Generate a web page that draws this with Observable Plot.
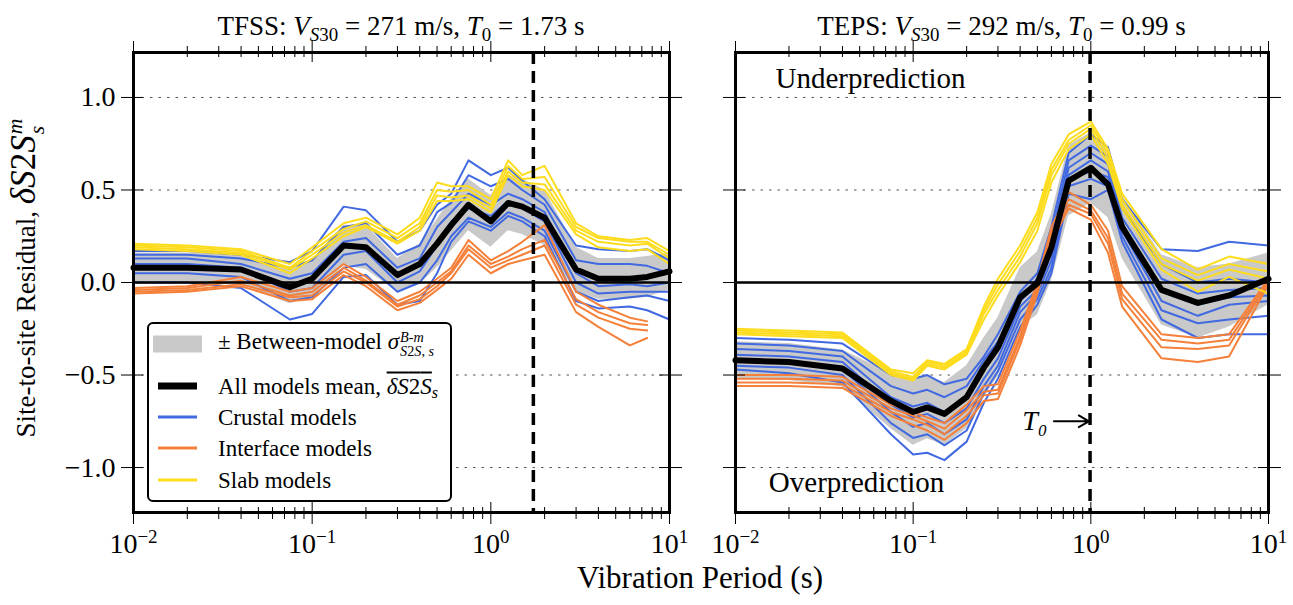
<!DOCTYPE html>
<html>
<head>
<meta charset="utf-8">
<script src="https://cdn.jsdelivr.net/npm/d3@7"></script>
<script src="https://cdn.jsdelivr.net/npm/@observablehq/plot@0.6"></script>
<style>
html,body{margin:0;padding:0;background:#fff;}
#fig{position:relative;width:1293px;height:605px;overflow:hidden;font-family:"Liberation Serif","DejaVu Serif","Noto Serif",serif;color:#000;background:#fff;}
.panel{position:absolute;top:0;}
.title{position:absolute;top:11px;text-align:center;font-size:27px;line-height:30px;white-space:nowrap;}
sub{font-size:0.7em;line-height:0;vertical-align:-0.3em;}
.ss{display:inline-flex;flex-direction:column;font-size:0.62em;line-height:1.0;vertical-align:middle;margin-left:1px;}
#ylabel{position:absolute;left:26px;top:278px;transform:translate(-50%,-50%) rotate(-90deg);font-size:27px;white-space:nowrap;}
#ylabel .m{font-size:1.3em;}
#xlabel{position:absolute;left:700px;top:578px;transform:translate(-50%,-50%);font-size:31px;white-space:nowrap;}
#legend{position:absolute;left:147px;top:322px;width:305px;height:180px;box-sizing:border-box;border:2px solid #000;border-radius:6px;background:#fff;}
.lrow{position:absolute;left:0;width:100%;height:0;}
.sw{position:absolute;transform:translateY(-50%);}
.lt{position:absolute;left:69px;top:0;transform:translateY(-50%);font-size:23px;white-space:nowrap;line-height:1;}
.ov{text-decoration:overline;}
</style>
</head>
<body>
<div id="fig"></div>
<script>
// ---------------- data ----------------
const stations = ["TFSS", "TEPS"];
const vs30 = [271, 292];
const t0 = [1.73, 0.99];

// Left panel (TFSS) periods (s)
const periodsL = [0.01,0.02,0.04,0.075,0.1,0.15,0.2,0.3,0.4,0.5,0.6,0.75,1,1.25,1.5,2,3,4,6,7.5,10];
const meanL  = [0.08,0.08,0.07,-0.025,0.02,0.20,0.19,0.04,0.10,0.21,0.31,0.42,0.33,0.43,0.41,0.35,0.07,0.02,0.02,0.03,0.06];
const sigmaL = [0.08,0.08,0.08,0.09,0.10,0.11,0.12,0.09,0.11,0.13,0.14,0.14,0.14,0.15,0.15,0.15,0.12,0.11,0.11,0.11,0.10];
const crustalL = [
  [0.17,0.17,0.15,0.11,0.17,0.41,0.39,0.22,0.28,0.42,0.48,0.66,0.58,0.62,0.55,0.45,0.20,0.18,0.17,0.18,0.12],
  [0.15,0.15,0.13,0.08,0.12,0.30,0.32,0.15,0.20,0.38,0.43,0.58,0.52,0.56,0.50,0.42,0.12,0.10,0.10,0.09,0.05],
  [0.13,0.13,0.10,0.02,0.05,0.22,0.24,0.08,0.13,0.30,0.38,0.48,0.42,0.48,0.45,0.38,0.05,-0.02,-0.01,-0.02,0.00],
  [0.10,0.10,0.08,-0.05,-0.03,0.15,0.17,0.00,0.06,0.20,0.33,0.40,0.36,0.44,0.40,0.33,0.00,-0.06,-0.05,-0.05,-0.05],
  [0.05,0.05,0.03,-0.10,-0.08,0.08,0.10,-0.05,0.00,0.12,0.25,0.35,0.30,0.38,0.35,0.28,-0.05,-0.10,-0.08,-0.07,-0.10],
  [0.00,0.00,-0.03,-0.20,-0.17,0.03,0.04,-0.12,-0.10,0.05,0.22,0.33,0.28,0.36,0.33,0.25,-0.10,-0.14,-0.13,-0.15,-0.20]
];
const interfaceL = [
  [-0.03,-0.02,0.03,-0.05,-0.03,0.10,0.03,-0.10,-0.05,0.02,0.08,0.23,0.12,0.17,0.22,0.31,-0.05,-0.12,-0.19,-0.21,null],
  [-0.04,-0.03,0.01,-0.07,-0.05,0.08,0.01,-0.12,-0.07,0.00,0.06,0.20,0.10,0.14,0.18,0.23,-0.09,-0.16,-0.22,-0.23,null],
  [-0.05,-0.04,-0.01,-0.08,-0.07,0.06,0.00,-0.13,-0.09,-0.02,0.05,0.18,0.08,0.12,0.15,0.20,-0.12,-0.19,-0.25,-0.26,null],
  [-0.06,-0.05,-0.02,-0.10,-0.09,0.04,-0.02,-0.15,-0.11,-0.04,0.02,0.15,0.05,0.10,0.12,0.15,-0.16,-0.24,-0.34,-0.30,null]
];
const slabL = [
  [0.21,0.20,0.18,0.10,0.19,0.32,0.35,0.26,0.35,0.54,0.52,0.52,0.45,0.66,0.58,0.63,0.32,0.25,0.23,0.24,0.17],
  [0.20,0.19,0.17,0.08,0.17,0.29,0.33,0.24,0.32,0.50,0.49,0.50,0.42,0.63,0.56,0.57,0.30,0.24,0.22,0.22,0.15],
  [0.19,0.18,0.16,0.07,0.15,0.27,0.31,0.22,0.30,0.47,0.46,0.47,0.40,0.60,0.54,0.53,0.28,0.22,0.20,0.21,0.13],
  [0.18,0.17,0.15,0.05,0.13,0.25,0.30,0.21,0.28,0.44,0.44,0.45,0.38,0.58,0.52,0.50,0.26,0.19,0.17,0.18,0.10]
];

// Right panel (TEPS) periods (s)
const periodsR = [0.01,0.02,0.04,0.075,0.1,0.12,0.15,0.2,0.25,0.3,0.4,0.5,0.6,0.75,1,1.25,1.5,2.5,4,6,10];
const meanR  = [-0.42,-0.43,-0.465,-0.64,-0.70,-0.675,-0.71,-0.62,-0.46,-0.35,-0.08,-0.005,0.19,0.55,0.62,0.53,0.30,-0.04,-0.11,-0.07,0.02];
const sigmaR = [0.10,0.10,0.10,0.15,0.18,0.17,0.17,0.17,0.16,0.16,0.16,0.17,0.18,0.19,0.19,0.18,0.17,0.19,0.19,0.17,0.14];
const crustalR = [
  [-0.30,-0.31,-0.33,-0.50,-0.52,-0.50,-0.55,-0.52,-0.40,-0.28,-0.05,0.05,0.30,0.70,0.80,0.73,0.45,0.18,0.17,0.22,0.20],
  [-0.33,-0.34,-0.37,-0.56,-0.60,-0.58,-0.62,-0.56,-0.42,-0.32,-0.08,0.02,0.25,0.66,0.74,0.68,0.40,0.10,0.00,0.02,0.00],
  [-0.36,-0.37,-0.40,-0.62,-0.67,-0.65,-0.70,-0.62,-0.47,-0.37,-0.10,-0.01,0.20,0.62,0.70,0.64,0.35,0.02,-0.06,-0.04,-0.03],
  [-0.39,-0.40,-0.43,-0.66,-0.73,-0.71,-0.76,-0.68,-0.52,-0.41,-0.13,-0.04,0.16,0.58,0.66,0.60,0.32,-0.05,-0.12,-0.08,-0.07],
  [-0.42,-0.43,-0.47,-0.70,-0.78,-0.76,-0.82,-0.74,-0.56,-0.45,-0.16,-0.06,0.12,0.56,0.60,0.57,0.28,-0.10,-0.18,-0.12,-0.10],
  [-0.45,-0.46,-0.50,-0.76,-0.84,-0.82,-0.88,-0.80,-0.60,-0.48,-0.20,-0.09,0.08,0.52,0.56,0.52,0.25,-0.15,-0.22,-0.20,-0.18],
  [-0.47,-0.49,-0.54,-0.82,-0.93,-0.92,-0.96,-0.86,-0.65,-0.52,-0.24,-0.12,0.05,0.48,0.45,0.50,0.22,-0.20,-0.30,-0.28,-0.28]
];
const interfaceR = [
  [-0.50,-0.50,-0.51,-0.66,-0.70,-0.73,-0.76,-0.66,-0.56,-0.55,-0.26,0.00,0.30,0.49,0.42,0.28,-0.02,-0.28,-0.30,-0.28,0.02],
  [-0.52,-0.52,-0.53,-0.68,-0.72,-0.75,-0.79,-0.69,-0.59,-0.58,-0.29,-0.02,0.27,0.45,0.39,0.24,-0.06,-0.31,-0.33,-0.31,0.01],
  [-0.54,-0.54,-0.55,-0.70,-0.74,-0.77,-0.82,-0.72,-0.61,-0.60,-0.31,-0.04,0.25,0.42,0.37,0.21,-0.09,-0.35,-0.36,-0.34,0.00],
  [-0.56,-0.56,-0.57,-0.72,-0.77,-0.80,-0.85,-0.76,-0.64,-0.63,-0.34,-0.06,0.22,0.40,0.34,0.16,-0.13,-0.41,-0.43,-0.40,-0.01]
];
const slabR = [
  [-0.25,-0.26,-0.27,-0.47,-0.49,-0.42,-0.44,-0.36,-0.13,0.02,0.20,0.38,0.64,0.80,0.87,0.72,0.48,0.18,0.07,0.14,0.10],
  [-0.26,-0.27,-0.28,-0.48,-0.51,-0.43,-0.45,-0.37,-0.15,-0.01,0.17,0.35,0.61,0.77,0.85,0.70,0.45,0.13,0.04,0.10,0.06],
  [-0.27,-0.28,-0.29,-0.49,-0.52,-0.44,-0.46,-0.38,-0.17,-0.04,0.14,0.32,0.58,0.75,0.83,0.67,0.42,0.10,0.01,0.07,0.02],
  [-0.28,-0.29,-0.30,-0.50,-0.53,-0.45,-0.47,-0.39,-0.20,-0.07,0.11,0.28,0.54,0.72,0.80,0.64,0.40,0.07,-0.05,0.03,-0.06]
];

// axes / ticks
const xMajor = [0.01, 0.1, 1, 10];
const xMajorExp = ["\u22122", "\u22121", "0", "1"];
const xMinor = [0.02,0.03,0.04,0.05,0.06,0.07,0.08,0.09,0.2,0.3,0.4,0.5,0.6,0.7,0.8,0.9,2,3,4,5,6,7,8,9];
const yTicks = [-1, -0.5, 0, 0.5, 1];
const yTickLabels = ["\u22121.0", "\u22120.5", "0.0", "0.5", "1.0"];
const gridLevels = [-1, -0.5, 0.5, 1];

// annotations (data coordinates)
const notesR = [
  {x: 0.0168, y: 1.10, text: "Underprediction"},
  {x: 0.0154, y: -1.08, text: "Overprediction"}
];
const t0Label = [{x: 0.57, y: -0.75, text: "T\u2080"}];
const t0Arrow = [{x1: 0.62, x2: 0.975, y1: -0.75, y2: -0.75}];

// legend
const legendItems = [
  {kind: "patch", label: "\u00b1 Between-model <i>\u03c3</i><span class='ss'><span><i>B</i>-<i>m</i></span><span><i>S</i>2<i>S</i>, <i>s</i></span></span>"},
  {kind: "mean", label: "All models mean, <span class='ov'><i>\u03b4S</i>2<i>S</i></span><sub><i>s</i></sub>"},
  {kind: "crustal", label: "Crustal models"},
  {kind: "interface", label: "Interface models"},
  {kind: "slab", label: "Slab models"}
];

// ---------------- drawing ----------------
const FONT = "'Liberation Serif', 'DejaVu Serif', 'Noto Serif', serif";
const BLUE = "#4169e1", ORANGE = "#f5803a", YELLOW = "#fcdc1c", GRAY = "#c9c9c9";
const H = 605, MT = 52, MB = 93;
const yDomain = [-1.243, 1.243];

const toRows = (grid, series) => series.flatMap((s, k) =>
  s.map((v, i) => ({x: grid[i], y: v, k})).filter(d => d.y !== null));
const bandRows = (grid, mean, sig) => grid.map((x, i) => ({x, lo: mean[i] - sig[i], hi: mean[i] + sig[i]}));

function panel(o) {
  const innerW = o.width - o.marginLeft - o.marginRight;
  const innerH = H - MT - MB;
  const marks = [
    Plot.ruleY(gridLevels, {stroke: "#555", strokeWidth: 1, strokeDasharray: "2.5,6"}),
    Plot.areaY(bandRows(o.grid, o.mean, o.sigma), {x: "x", y1: "lo", y2: "hi", fill: GRAY}),
    Plot.line(toRows(o.grid, o.crust), {x: "x", y: "y", z: "k", stroke: BLUE, strokeWidth: 2}),
    Plot.line(toRows(o.grid, o.inter), {x: "x", y: "y", z: "k", stroke: ORANGE, strokeWidth: 2}),
    Plot.line(toRows(o.grid, o.slab), {x: "x", y: "y", z: "k", stroke: YELLOW, strokeWidth: 2}),
    Plot.ruleY([0], {stroke: "black", strokeWidth: 2.5}),
    Plot.line(o.grid.map((x, i) => ({x, y: o.mean[i]})), {x: "x", y: "y", stroke: "black", strokeWidth: 6, strokeLinejoin: "round"}),
    Plot.ruleX([o.t0], {stroke: "black", strokeWidth: 3.5, strokeDasharray: "12,7"}),
    Plot.axisX({anchor: "bottom", ticks: xMajor, tickSize: 12, tickPadding: 9, label: null,
      tickFormat: d => "10|" + xMajorExp[xMajor.indexOf(d)]}),
    Plot.axisX({anchor: "bottom", ticks: xMinor, tickSize: 7, label: null, tickFormat: () => ""}),
    Plot.axisX({anchor: "top", ticks: xMajor, tickSize: 12, label: null, tickFormat: () => ""}),
    Plot.axisX({anchor: "top", ticks: xMinor, tickSize: 7, label: null, tickFormat: () => ""}),
    Plot.axisY({anchor: "left", ticks: yTicks, tickSize: 12, tickPadding: 6, label: null,
      tickFormat: o.yLabels ? (d => yTickLabels[yTicks.indexOf(d)]) : (() => "")}),
    Plot.axisY({anchor: "right", ticks: yTicks, tickSize: 12, label: null, tickFormat: () => ""}),
    Plot.ruleX(xMajor, {insetTop: innerH - 10, stroke: "black"}),
    Plot.ruleX(xMinor, {insetTop: innerH - 5, stroke: "black"}),
    Plot.ruleX(xMajor, {insetBottom: innerH - 10, stroke: "black"}),
    Plot.ruleX(xMinor, {insetBottom: innerH - 5, stroke: "black"}),
    Plot.ruleY(yTicks, {insetRight: innerW - 10, stroke: "black"}),
    Plot.ruleY(yTicks, {insetLeft: innerW - 10, stroke: "black"})
  ];
  if (o.notes) {
    marks.push(Plot.text(o.notes, {x: "x", y: "y", text: "text", textAnchor: "start", fontSize: 29}));
    marks.push(Plot.text(t0Label, {x: "x", y: "y", text: "text", textAnchor: "end", fontSize: 28, fontStyle: "italic"}));
    marks.push(Plot.arrow(t0Arrow, {x1: "x1", x2: "x2", y1: "y1", y2: "y2", stroke: "black", strokeWidth: 2, headLength: 11}));
  }
  marks.push(Plot.frame({stroke: "black", strokeWidth: 3}));
  const svg = Plot.plot({
    width: o.width, height: H,
    marginTop: MT, marginBottom: MB, marginLeft: o.marginLeft, marginRight: o.marginRight,
    x: {type: "log", domain: [0.01, 10]},
    y: {domain: yDomain},
    style: {fontFamily: FONT, fontSize: "28px", color: "black", background: "transparent", overflow: "visible"},
    marks
  });
  d3.select(svg).selectAll('g[aria-label="x-axis tick label"] text').each(function () {
    const parts = this.textContent.split("|");
    if (parts.length < 2) return;
    const t = d3.select(this);
    t.text(null);
    t.append("tspan").text(parts[0]);
    t.append("tspan").attr("dy", "-0.55em").attr("font-size", "0.68em").text(parts[1]);
  });
  return svg;
}

const fig = document.getElementById("fig");
function addDiv(cls, style, html) {
  const d = document.createElement("div");
  if (cls) d.className = cls;
  if (style) d.setAttribute("style", style);
  if (html != null) d.innerHTML = html;
  fig.appendChild(d);
  return d;
}

const left = addDiv("panel", "left:0px;width:700px;");
left.appendChild(panel({width: 700, marginLeft: 133, marginRight: 31, grid: periodsL, mean: meanL, sigma: sigmaL,
  crust: crustalL, inter: interfaceL, slab: slabL, t0: t0[0], yLabels: true}));
const right = addDiv("panel", "left:700px;width:593px;");
right.appendChild(panel({width: 593, marginLeft: 35, marginRight: 25, grid: periodsR, mean: meanR, sigma: sigmaR,
  crust: crustalR, inter: interfaceR, slab: slabR, t0: t0[1], yLabels: false, notes: notesR}));

// titles
const titleBoxes = [[133, 536], [735, 533]];
stations.forEach((s, i) => {
  addDiv("title", `left:${titleBoxes[i][0]}px;width:${titleBoxes[i][1]}px;`,
    `${s}: <i>V</i><sub><i>S</i>30</sub> = ${vs30[i]} m/s, <i>T</i><sub>0</sub> = ${t0[i].toFixed(2)} s`);
});

const yl = addDiv(null, null, "Site-to-site Residual, <span class='m'><i>\u03b4S</i>2<i>S</i><span class='ss'><span><i>m</i></span><span><i>s</i></span></span></span>");
yl.id = "ylabel";
const xl = addDiv(null, null, "Vibration Period (s)");
xl.id = "xlabel";

// legend
const lg = addDiv(null, null, "");
lg.id = "legend";
const rowTops = [20, 62, 93, 124, 156];
legendItems.forEach((it, i) => {
  const r = document.createElement("div");
  r.className = "lrow";
  r.style.top = rowTops[i] + "px";
  const sw = document.createElement("div");
  sw.className = "sw";
  if (it.kind === "patch") { sw.style.cssText += "left:4px;width:49px;height:17px;background:" + GRAY; }
  else if (it.kind === "mean") { sw.style.cssText += "left:9px;width:39px;height:7px;background:#000"; }
  else {
    const c = it.kind === "crustal" ? BLUE : it.kind === "interface" ? ORANGE : YELLOW;
    sw.style.cssText += "left:9px;width:39px;height:3px;background:" + c;
  }
  r.appendChild(sw);
  const t = document.createElement("div");
  t.className = "lt";
  t.innerHTML = it.label;
  r.appendChild(t);
  lg.appendChild(r);
});
</script>
</body>
</html>
